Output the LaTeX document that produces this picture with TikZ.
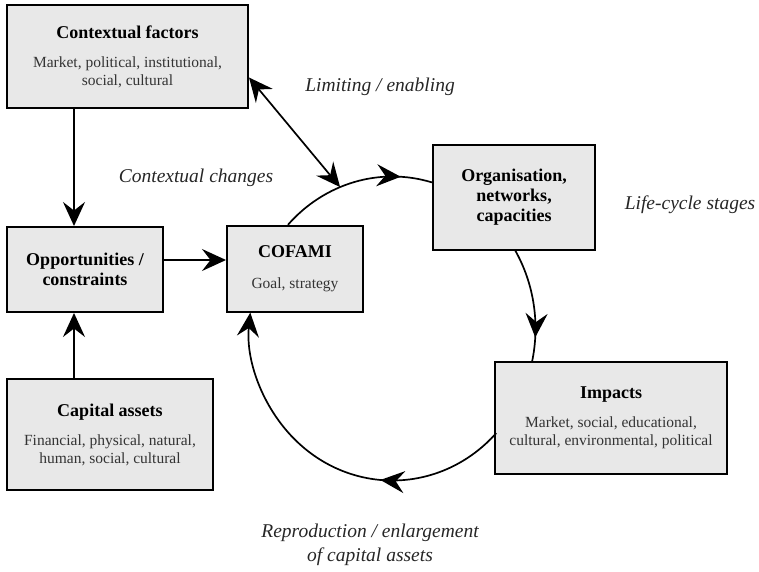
\documentclass[tikz,border=0pt]{standalone}
\usepackage{fontspec}
\setmainfont{Liberation Serif}
\definecolor{boxgray}{HTML}{E8E8E8}
\definecolor{bodygray}{HTML}{333333}
\usetikzlibrary{arrows.meta, calc, decorations.markings}
\tikzset{
	cycletip/.tip={Stealth[length=24pt, width=22pt, inset=8.5pt]}
}
\tikzset{
	stagebox/.style={draw, line width=2pt, fill=boxgray, align=center, inner sep=0pt,
			font=\fontsize{15.5}{18}\selectfont, text=bodygray}
}
\tikzset{
	flowline/.style={line width=1.7pt}
}
\tikzset{
	midtip/.style={postaction={decorate,decoration={markings,mark=at position #1 with {\arrow{cycletip}}}}}
}
\tikzset{
	italiclabel/.style={font=\fontsize{19.5}{24}\selectfont\itshape, align=center, text=black!85}
}
\newcommand{\boxhead}[1]{{\color{black}\fontsize{18}{20}\selectfont\bfseries #1}}

\begin{document}
\begin{tikzpicture}[x=1pt, y=-1pt]

	\useasboundingbox (0,0) rectangle (759,571);

	\begin{scope}
		\node[stagebox, minimum width=241pt, minimum height=103pt] (ctx) at (127.5,56.5)
		{\boxhead{Contextual factors}\\[11pt]Market, political, institutional,\\social, cultural};
		\node[stagebox, minimum width=156pt, minimum height=85pt, text=black,
			font=\fontsize{18}{20}\selectfont\bfseries] (opp) at (85,269.5)
		{Opportunities /\\constraints};
		\node[stagebox, minimum width=206pt, minimum height=111pt] (cap) at (110,434.5)
		{\boxhead{Capital assets}\\[11pt]Financial, physical, natural,\\human, social, cultural};
		\node[stagebox, minimum width=136pt, minimum height=86pt] (cof) at (295,269)
		{\boxhead{COFAMI}\\[13pt]Goal, strategy};
		\node[stagebox, minimum width=162pt, minimum height=105pt, text=black,
			font=\fontsize{18}{20}\selectfont\bfseries] (org) at (514,197.5)
		{Organisation,\\networks,\\capacities};
		\node[stagebox, minimum width=232pt, minimum height=112pt] (imp) at (611,418)
		{\boxhead{Impacts}\\[11pt]Market, social, educational,\\cultural, environmental, political};
	\end{scope}

	\begin{scope}
		\node[italiclabel] (lim) at (380,87) {Limiting / enabling};
		\node[italiclabel] (chg) at (196,178) {Contextual changes};
		\node[italiclabel] (life) at (690,205) {Life-cycle stages};
		\node[italiclabel] (rep) at (370,545) {Reproduction / enlargement\\of capital assets};
	\end{scope}

	% straight links
	\begin{scope}
		\draw[flowline, -{cycletip}] ([xshift=68pt]ctx.south west) -- ([xshift=68pt]opp.north west);
		\draw[flowline, -{cycletip}] ([xshift=68pt]cap.north west) -- ([xshift=68pt]opp.south west);
		\draw[flowline, -{cycletip}] ([yshift=9.5pt]opp.east) -- ([yshift=9.5pt]opp.east -| cof.west);
	\end{scope}

	% life-cycle
	\begin{scope}
		\coordinate (cyc) at (392.5,328.5);
		\coordinate (cA) at ($(cyc)+(-137:143 and 152)$);
		\coordinate (cB) at ($(cyc)+(-111.5:143 and 152)$);
		\coordinate (cE) at ($(cyc)+(-31:143 and 152)$);
		\coordinate (cH) at ($(cyc)+(43.5:143 and 152)$);

		\draw[flowline, midtip=0.8] (cA) arc[start angle=-137, end angle=-74, x radius=143, y radius=152];
		\draw[flowline, midtip=0.78] (cE) arc[start angle=-31, end angle=13, x radius=143, y radius=152];
		\draw[flowline, midtip=0.355, -{cycletip}] (cH) arc[start angle=43.5, end angle=186, x radius=143, y radius=152];

		\draw[flowline, {cycletip}-{cycletip}] ($(ctx.north east)!0.7!(ctx.south east)$) -- (cB);
	\end{scope}

\end{tikzpicture}
\end{document}
